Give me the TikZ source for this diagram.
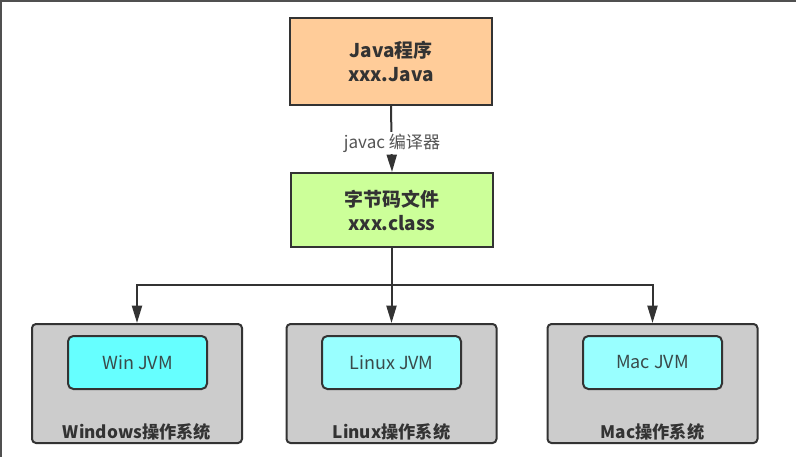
\documentclass[tikz,border=0pt]{standalone}
\usepackage{fontspec}
\setmainfont{Noto Sans CJK SC}
\usetikzlibrary{arrows.meta}
\definecolor{edgec}{HTML}{333333}
\definecolor{javafill}{HTML}{FFCC99}
\definecolor{classfill}{HTML}{CCFF99}
\definecolor{osfill}{HTML}{CCCCCC}
\definecolor{winfill}{HTML}{66FFFF}
\definecolor{jvmfill}{HTML}{99FFFF}
\definecolor{txt}{HTML}{333333}
\definecolor{jvmtxt}{HTML}{3A4A4A}
\definecolor{lbl}{HTML}{555555}
\definecolor{frame}{HTML}{505050}
\tikzset{
  topbox/.style={draw=edgec, line width=1.5pt, minimum width=151.5pt, text=txt,
    font=\fontsize{14.2}{18}\selectfont\bfseries, align=center},
  osbox/.style={draw=edgec, fill=osfill, line width=1.5pt, rounded corners=3pt,
    minimum width=157.5pt, minimum height=89.25pt},
  jvmbox/.style={draw=edgec, line width=1.5pt, rounded corners=4pt,
    minimum width=104.25pt, minimum height=39.75pt, text=jvmtxt,
    font=\fontsize{13.5}{16}\selectfont},
  oslabel/.style={text=txt, font=\fontsize{12.9}{15}\selectfont\bfseries},
  conn/.style={draw=edgec, line width=1.5pt},
  arr/.style={conn, -{Triangle[length=13pt,width=7.5pt]}}
}
\begin{document}
\begin{tikzpicture}[x=0.75pt,y=-0.75pt]
\useasboundingbox (0,0) rectangle (796,457);
\fill[white] (0,0) rectangle (796,457);
\fill[frame] (0,0) rectangle (796,2);
\fill[frame] (0,0) rectangle (2,457);

\node[topbox, fill=javafill, minimum height=65.25pt] (java) at (391,61.5) {Java程序\\xxx.Java};
\node[topbox, fill=classfill, minimum height=55.5pt] (class) at (392,210) {字节码文件\\xxx.class};

\node[osbox] (win) at (137,383.5) {};
\node[osbox] (linux) at (391.5,383.5) {};
\node[osbox] (mac) at (652.5,383.5) {};

\node[jvmbox, fill=winfill] (winjvm) at (137.5,362.5) {Win JVM};
\node[jvmbox, fill=jvmfill] (linuxjvm) at (391.5,362.5) {Linux JVM};
\node[jvmbox, fill=jvmfill] (macjvm) at (652.5,362.5) {Mac JVM};

\node[oslabel] (winlbl) at (137,432) {Windows操作系统};
\node[oslabel] (linuxlbl) at (391.5,432) {Linux操作系统};
\node[oslabel] (maclbl) at (652.5,432) {Mac操作系统};

\draw[arr] (java.south) -- (class.north);
\node[fill=white, text=lbl, font=\fontsize{12.8}{15}\selectfont, inner sep=1pt] (javac) at (392,143) {javac 编译器};

\coordinate (hub) at (391.5,285);
\draw[arr] (class.south -| linux.north) -- (linux.north);
\draw[arr] (hub) -| (win.north);
\draw[arr] (hub) -| (mac.north);
\end{tikzpicture}
\end{document}
